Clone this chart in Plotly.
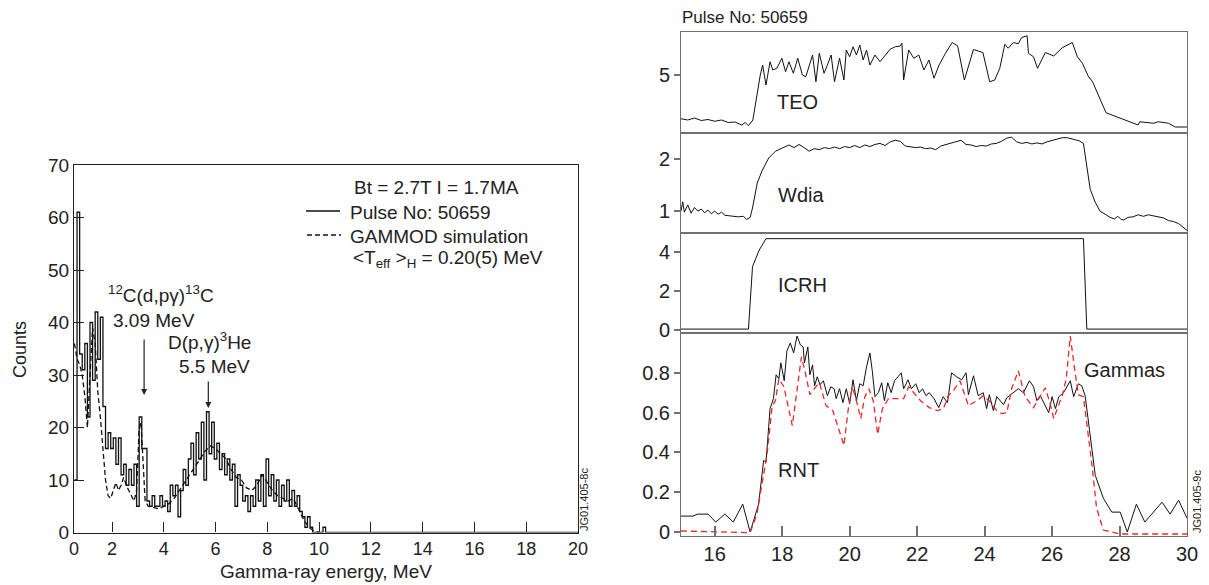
import numpy as np
import plotly.graph_objects as go

# the page body has an 8px margin, so the figure is drawn 8px smaller
PAD = 8
W, H = 1209 - PAD, 585 - PAD
FONT = "Liberation Sans, Arial, sans-serif"

# ---- left: gamma-ray spectrum ----
bin_start = 0.55
bin_width = 0.1
pulse_counts = [10, 61, 34, 31, 36, 22, 40, 29, 42, 33,
                41, 24, 16, 19, 16, 18, 13, 18, 11, 13,
                9, 12, 9, 13, 5, 22, 16, 16, 6, 5,
                7, 5, 5, 7, 5, 6, 4, 9, 7, 9,
                3, 8, 12, 9, 14, 17, 11, 19, 14, 21,
                10, 23, 15, 21, 14, 17, 12, 15, 11, 14,
                10, 13, 5, 11, 9, 6, 7, 4, 7, 5,
                10, 6, 11, 5, 14, 7, 11, 6, 10, 5,
                9, 6, 10, 5, 8, 5, 7, 4, 3, 1,
                3, 1, 0, 0, 0, 0, 1, 0]

sim_energy = [0.55, 0.65, 0.75, 0.85, 0.95, 1.05, 1.15, 1.25, 1.35, 1.45,
              1.55, 1.65, 1.75, 1.85, 1.95, 2.05, 2.15, 2.25, 2.35, 2.45,
              2.55, 2.65, 2.75, 2.85, 2.95, 3.05, 3.12, 3.2, 3.28, 3.4,
              3.6, 3.8, 4.0, 4.2, 4.4, 4.6, 4.8, 5.0, 5.2, 5.4,
              5.6, 5.8, 6.0, 6.2, 6.4, 6.6, 6.8, 7.0, 7.2, 7.4,
              7.6, 7.8, 8.0, 8.2, 8.4, 8.6, 8.8, 9.0, 9.2, 9.4,
              9.6, 9.8, 10.0]
sim_counts = [36, 33, 32, 30, 26, 20, 30, 39, 36, 27,
              22, 15, 10, 7, 6.5, 8, 9.5, 8, 9, 10.5,
              9, 8, 7, 6, 8, 20, 21, 14, 6, 5,
              4.8, 4.5, 5, 5.5, 6.5, 8, 9.5, 11, 12.5, 14,
              15.5, 16.5, 16, 15, 14, 12, 10.5, 10, 8.5, 8,
              9, 11, 9.5, 8, 7, 6.5, 6, 6.5, 4.5, 2.5,
              1, 0.3, 0]

e_ticks = [0.532, 2, 4, 6, 8, 10, 12, 14, 16, 18, 20]
e_labels = ["0", "2", "4", "6", "8", "10", "12", "14", "16", "18", "20"]

# ---- right: time traces, pulse 50659 ----
teo_t = [15.0, 15.2, 15.4, 15.6, 15.8, 16.0, 16.2, 16.4, 16.6, 16.8,
         16.9, 17.0, 17.13, 17.25, 17.35, 17.42, 17.52, 17.64, 17.72, 17.84,
         17.99, 18.1, 18.2, 18.33, 18.46, 18.6, 18.7, 18.9, 19.0, 19.1,
         19.24, 19.34, 19.45, 19.55, 19.7, 19.83, 19.9, 20.0, 20.1, 20.2,
         20.3, 20.4, 20.5, 20.6, 20.75, 20.9, 21.05, 21.2, 21.35, 21.5,
         21.55, 21.6, 21.75, 21.9, 22.05, 22.2, 22.35, 22.5, 22.65, 22.84,
         23.04, 23.2, 23.4, 23.67, 23.95, 24.15, 24.3, 24.45, 24.6, 24.7,
         24.85, 25.0, 25.1, 25.26, 25.3, 25.45, 25.57, 25.8, 26.05, 26.3,
         26.6, 26.75, 26.9, 27.07, 27.2, 27.6, 28.55, 28.6, 29.0, 29.15,
         29.45, 29.65, 30.0]
teo = [3.25, 3.2, 3.28, 3.18, 3.22, 3.15, 3.2, 3.1, 3.12, 3.0,
       3.1, 2.97, 3.2, 4.2, 5.0, 5.4, 4.6, 5.53, 5.2, 5.27,
       5.67, 5.13, 5.53, 5.07, 5.67, 5.0, 4.93, 5.8, 4.73, 5.87,
       5.07, 5.4, 5.8, 4.73, 5.67, 4.8, 6.0, 5.73, 6.13, 5.8,
       6.2, 5.6, 6.0, 5.4, 5.8, 5.53, 5.8, 6.03, 6.13, 6.16,
       6.27, 4.8, 6.0, 5.67, 5.8, 5.2, 5.6, 4.87, 5.4, 5.87,
       6.3, 6.17, 4.8, 6.02, 5.9, 4.73, 4.8, 5.27, 6.23, 6.07,
       6.3, 6.25, 6.5, 6.57, 5.87, 5.73, 5.27, 5.9, 5.76, 6.09,
       6.3, 5.73, 5.47, 4.96, 4.73, 3.49, 3.0, 3.13, 3.07, 3.13,
       3.07, 2.92, 2.92]

wdia_t = [15.0, 15.05, 15.1, 15.2, 15.3, 15.4, 15.5, 15.6, 15.7, 15.8,
          15.9, 16.0, 16.1, 16.2, 16.3, 16.5, 16.7, 16.85, 16.95, 17.05,
          17.12, 17.26, 17.4, 17.6, 17.8, 18.0, 18.2, 18.35, 18.5, 18.65,
          18.8, 18.95, 19.1, 19.25, 19.4, 19.55, 19.7, 19.85, 20.0, 20.15,
          20.3, 20.45, 20.6, 20.75, 20.9, 21.05, 21.2, 21.35, 21.5, 21.65,
          21.8, 21.95, 22.1, 22.25, 22.4, 22.55, 22.7, 22.85, 23.0, 23.15,
          23.3, 23.45, 23.6, 23.75, 23.9, 24.05, 24.2, 24.35, 24.5, 24.65,
          24.8, 24.95, 25.1, 25.25, 25.4, 25.55, 25.7, 25.85, 26.0, 26.15,
          26.3, 26.45, 26.6, 26.8, 26.93, 27.05, 27.13, 27.28, 27.42, 27.6,
          27.72, 27.85, 27.95, 28.05, 28.12, 28.25, 28.4, 28.55, 28.71, 28.85,
          29.0, 29.15, 29.3, 29.45, 29.6, 29.75, 29.88, 30.0]
wdia = [1.0, 1.18, 0.98, 1.12, 0.96, 1.07, 1.0, 1.04, 0.97, 1.02,
        0.95, 1.0, 0.94, 0.98, 0.92, 0.9, 0.89, 0.9, 0.84, 0.88,
        1.06, 1.54, 1.77, 2.02, 2.15, 2.21, 2.27, 2.22, 2.28, 2.22,
        2.15, 2.2, 2.18, 2.22, 2.2, 2.23, 2.2, 2.24, 2.22, 2.26,
        2.22, 2.27, 2.24, 2.28, 2.3, 2.26, 2.33, 2.36, 2.34, 2.25,
        2.24, 2.22, 2.23, 2.2, 2.21, 2.18, 2.25, 2.28, 2.3, 2.33,
        2.36, 2.28, 2.27, 2.24, 2.26, 2.25, 2.29, 2.3, 2.34, 2.4,
        2.42, 2.33, 2.3, 2.32, 2.29, 2.31, 2.29, 2.33, 2.36, 2.39,
        2.41, 2.41, 2.38, 2.35, 2.3, 1.8, 1.42, 1.17, 1.0, 0.93,
        0.88, 0.85, 0.9, 0.84, 0.83, 0.88, 0.89, 0.93, 0.9, 0.93,
        0.91, 0.88, 0.87, 0.82, 0.8, 0.76, 0.7, 0.63]

icrh_t = [15.0, 17.0, 17.12, 17.32, 17.52, 26.93, 27.03, 30.0]
icrh = [0.05, 0.05, 3.25, 4.1, 4.68, 4.68, 0.05, 0.05]

rnt_t = [15.0, 15.35, 15.5, 15.8, 16.03, 16.3, 16.55, 16.83, 17.05, 17.3,
         17.45, 17.52, 17.64, 17.74, 17.82, 17.9, 17.96, 18.06, 18.14, 18.24,
         18.34, 18.44, 18.54, 18.62, 18.66, 18.76, 18.82, 18.9, 18.96, 19.04,
         19.12, 19.22, 19.34, 19.44, 19.54, 19.6, 19.7, 19.8, 19.9, 20.0,
         20.1, 20.2, 20.3, 20.4, 20.5, 20.6, 20.67, 20.75, 20.85, 20.95,
         21.03, 21.13, 21.23, 21.33, 21.53, 21.6, 21.73, 21.83, 21.96, 22.06,
         22.16, 22.26, 22.36, 22.5, 22.64, 22.77, 22.9, 23.02, 23.17, 23.32,
         23.45, 23.52, 23.67, 23.81, 23.96, 24.06, 24.14, 24.26, 24.36, 24.46,
         24.56, 24.66, 24.86, 25.0, 25.15, 25.33, 25.45, 25.55, 25.65, 25.75,
         25.9, 26.0, 26.1, 26.2, 26.34, 26.54, 26.64, 26.78, 26.88, 26.98,
         27.13, 27.28, 27.52, 27.77, 28.02, 28.23, 28.5, 28.75, 29.26, 29.5,
         29.75, 30.0]
rnt = [0.08, 0.08, 0.09, 0.09, 0.05, 0.09, 0.05, 0.14, 0.0, 0.14,
       0.36, 0.35, 0.62, 0.67, 0.79, 0.77, 0.85, 0.76, 0.91, 0.95,
       0.90, 0.985, 0.94, 0.93, 0.85, 0.93, 0.79, 0.84, 0.735, 0.78,
       0.74, 0.76, 0.685, 0.73, 0.72, 0.67, 0.72, 0.65, 0.72, 0.645,
       0.765, 0.66, 0.745, 0.735, 0.83, 0.90, 0.81, 0.68, 0.70, 0.75,
       0.66, 0.75, 0.70, 0.76, 0.80, 0.72, 0.765, 0.72, 0.745, 0.70,
       0.72, 0.685, 0.70, 0.67, 0.625, 0.68, 0.65, 0.80, 0.78, 0.765,
       0.80, 0.69, 0.785, 0.685, 0.70, 0.62, 0.69, 0.61, 0.68, 0.66,
       0.64, 0.675, 0.70, 0.72, 0.70, 0.76, 0.73, 0.66, 0.685, 0.65,
       0.60, 0.68, 0.62, 0.68, 0.70, 0.76, 0.68, 0.745, 0.735, 0.685,
       0.48, 0.285, 0.17, 0.10, 0.10, 0.0, 0.14, 0.05, 0.15, 0.09,
       0.16, 0.07]

gam_t = [15.0, 16.05, 17.05, 17.25, 17.4, 17.55, 17.7, 17.8, 17.9, 18.05,
         18.3, 18.45, 18.57, 18.7, 18.82, 18.95, 19.1, 19.3, 19.5, 19.83,
         19.96, 20.08, 20.2, 20.33, 20.45, 20.57, 20.7, 20.83, 20.97, 21.15,
         21.6, 21.75, 21.96, 22.1, 22.36, 22.6, 22.78, 22.92, 23.07, 23.27,
         23.52, 23.77, 23.96, 24.16, 24.36, 24.51, 24.66, 24.8, 25.0, 25.2,
         25.45, 25.65, 25.8, 25.95, 26.05, 26.2, 26.3, 26.42, 26.54, 26.66,
         26.78, 26.93, 27.03, 27.18, 27.32, 27.52, 28.02, 30.0]
gammas = [0.005, 0.002, -0.003, 0.09, 0.23, 0.39, 0.63, 0.66, 0.77, 0.73,
          0.535, 0.73, 0.88, 0.79, 0.69, 0.72, 0.75, 0.635, 0.61, 0.435,
          0.62, 0.73, 0.66, 0.57, 0.68, 0.72, 0.66, 0.49, 0.62, 0.67,
          0.67, 0.73, 0.69, 0.66, 0.625, 0.61, 0.62, 0.685, 0.71, 0.76,
          0.635, 0.66, 0.685, 0.655, 0.61, 0.595, 0.60, 0.72, 0.81, 0.68,
          0.625, 0.685, 0.725, 0.64, 0.57, 0.64, 0.685, 0.77, 0.985, 0.83,
          0.69, 0.68, 0.55, 0.34, 0.12, 0.01, -0.01, -0.01]

t_ticks = [16, 18, 20, 22, 24, 26, 28, 30]


# positions below are given in pixels of the 1209x585 window
def px(x):
    return (x - PAD) / W


def py(y):
    return 1 - (y - PAD) / H


# histogram as a step line
edges = bin_start + bin_width * np.arange(len(pulse_counts))
hist_x = list(edges) + [edges[-1] + bin_width, 20]
hist_y = list(pulse_counts) + [0, 0]

fig = go.Figure()
fig.add_trace(go.Scatter(x=hist_x, y=hist_y, mode="lines", line_shape="hv",
                         line=dict(color="#111", width=1.3), xaxis="x", yaxis="y"))
fig.add_trace(go.Scatter(x=sim_energy, y=sim_counts, mode="lines",
                         line=dict(color="#111", width=1.3, dash="5px,3px"),
                         xaxis="x", yaxis="y"))

black = dict(color="#111", width=1)
fig.add_trace(go.Scatter(x=rnt_t, y=rnt, mode="lines", line=black, xaxis="x2", yaxis="y2"))
fig.add_trace(go.Scatter(x=gam_t, y=gammas, mode="lines",
                         line=dict(color="rgb(232,40,40)", width=1.3, dash="6px,4px"),
                         xaxis="x2", yaxis="y2"))
fig.add_trace(go.Scatter(x=icrh_t, y=icrh, mode="lines", line=black, xaxis="x3", yaxis="y3"))
fig.add_trace(go.Scatter(x=wdia_t, y=wdia, mode="lines", line=black, xaxis="x4", yaxis="y4"))
fig.add_trace(go.Scatter(x=teo_t, y=teo, mode="lines", line=black, xaxis="x5", yaxis="y5"))

left_ax = dict(showline=True, linecolor="#222", linewidth=1.3, mirror=True,
               showgrid=False, zeroline=False, ticks="inside", ticklen=10,
               tickcolor="#222", tickwidth=1.2, automargin=False)
gray = "#707070"
right_ax = dict(showline=True, linecolor=gray, linewidth=1, mirror=True,
                showgrid=False, zeroline=False, tickcolor=gray, tickwidth=1.5,
                tickfont=dict(family=FONT, size=20, color="#222"), automargin=False)
x_dom = [px(681), px(1187)]

fig.update_layout(
    width=W, height=H, margin=dict(l=0, r=0, t=0, b=0),
    paper_bgcolor="white", plot_bgcolor="white", showlegend=False,
    font=dict(family=FONT, color="#222"),
    xaxis=dict(left_ax, domain=[px(74), px(578)], range=[0.532, 20], anchor="y",
               tickvals=e_ticks, ticktext=e_labels,
               tickfont=dict(family=FONT, size=18, color="#222")),
    yaxis=dict(left_ax, domain=[py(532.5), py(165)], range=[0, 70], anchor="x",
               tickvals=[0, 10, 20, 30, 40, 50, 60, 70],
               tickfont=dict(family=FONT, size=19, color="#222")),
    xaxis2=dict(right_ax, domain=x_dom, range=[15, 30], anchor="y2",
                tickvals=t_ticks, ticks="inside", ticklen=10),
    yaxis2=dict(right_ax, domain=[py(536), py(333)], range=[-0.02, 1.0], anchor="x2",
                tickvals=[0, 0.2, 0.4, 0.6, 0.8], ticktext=["0", "0.2", "0.4", "0.6", "0.8"],
                ticks="outside", ticklen=6),
    xaxis3=dict(right_ax, domain=x_dom, range=[15, 30], anchor="y3",
                showticklabels=False, ticks=""),
    yaxis3=dict(right_ax, domain=[py(333), py(233)], range=[-0.15, 4.97], anchor="x3",
                tickvals=[0, 2, 4], ticks="outside", ticklen=6),
    xaxis4=dict(right_ax, domain=x_dom, range=[15, 30], anchor="y4",
                showticklabels=False, ticks=""),
    yaxis4=dict(right_ax, domain=[py(233), py(133)], range=[0.58, 2.5], anchor="x4",
                tickvals=[1, 2], ticks="outside", ticklen=6),
    xaxis5=dict(right_ax, domain=x_dom, range=[15, 30], anchor="y5",
                showticklabels=False, ticks=""),
    yaxis5=dict(right_ax, domain=[py(133), py(32)], range=[2.68, 6.72], anchor="x5",
                tickvals=[5], ticks="outside", ticklen=6),
)


def label(x, y, text, size=19, xanchor="left", angle=0):
    fig.add_annotation(x=px(x), y=py(y), xref="paper", yref="paper", text=text,
                       showarrow=False, xanchor=xanchor, yanchor="middle",
                       textangle=angle, font=dict(family=FONT, size=size, color="#222"))


# left panel texts
label(326, 571, "Gamma-ray energy, MeV", size=19, xanchor="center")
label(20, 350, "Counts", size=18, xanchor="center", angle=-90)
label(352, 187, "Bt = 2.7T I = 1.7MA", size=19)
label(348, 212, "Pulse No: 50659", size=19)
label(348, 236, "GAMMOD simulation", size=19)
label(351, 259, "&lt;T<sub>eff</sub> &gt;<sub>H</sub> = 0.20(5) MeV", size=19)
label(106, 294, "<sup>12</sup>C(d,pγ)<sup>13</sup>C", size=19)
label(111, 320, "3.09 MeV", size=19)
label(166, 341, "D(p,γ)<sup>3</sup>He", size=19)
label(177, 366, "5.5 MeV", size=19)
label(584, 500, "JG01.405-8c", size=11, xanchor="center", angle=-90)

# legend line samples
fig.add_shape(type="line", xref="paper", yref="paper", x0=px(306), x1=px(340),
              y0=py(211), y1=py(211), line=dict(color="#111", width=1.3))
fig.add_shape(type="line", xref="paper", yref="paper", x0=px(307), x1=px(341),
              y0=py(235), y1=py(235), line=dict(color="#111", width=1.3, dash="5px,3px"))

# arrows to the lines
for ex, cy, tail in [(3.24, 26.2, -57), (5.72, 23.7, -28)]:
    fig.add_annotation(x=ex, y=cy, xref="x", yref="y", text="", showarrow=True,
                       ax=0, ay=tail, arrowhead=2, arrowsize=1, arrowwidth=1.2,
                       arrowcolor="#222")

# right panel texts
label(680, 18, "Pulse No: 50659", size=17)
label(775, 102, "TEO", size=20)
label(776, 195, "Wdia", size=20)
label(776, 285, "ICRH", size=20)
label(776, 470, "RNT", size=20)
label(1082, 370, "Gammas", size=20)
label(1197, 502, "JG01.405-9c", size=11, xanchor="center", angle=-90)

fig.write_html("out.html")
